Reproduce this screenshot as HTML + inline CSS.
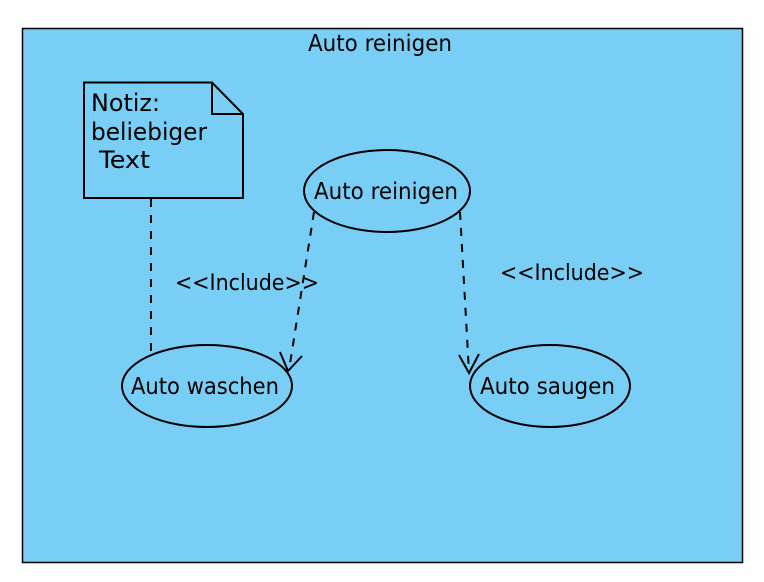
<!DOCTYPE html>
<html><head><style>body{margin:0;background:#fff}svg{display:block}</style></head>
<body>
<svg width="764" height="582" viewBox="0 0 764 582" font-family="DejaVu Sans Condensed, DejaVu Sans, sans-serif" font-size="23">
<rect x="22.5" y="28.5" width="720" height="534" fill="#79CEF5" stroke="#000" stroke-width="1.5"/>
<text x="308" y="51" font-size="23" textLength="144" lengthAdjust="spacingAndGlyphs">Auto reinigen</text>
<path d="M84 82.5 H212 L243 114 V198 H84 Z" fill="#79CEF5" stroke="#000" stroke-width="2"/>
<path d="M212 82.5 V114 H243" fill="none" stroke="#000" stroke-width="2"/>
<text x="91" y="111" font-size="24" textLength="69" lengthAdjust="spacingAndGlyphs">Notiz:</text>
<text x="91" y="140" font-size="24" textLength="116" lengthAdjust="spacingAndGlyphs">beliebiger</text>
<text x="99" y="168" font-size="24" textLength="51" lengthAdjust="spacingAndGlyphs">Text</text>
<line x1="151" y1="199" x2="151" y2="354" stroke="#000" stroke-width="2" stroke-dasharray="8,8"/>
<ellipse cx="387" cy="191" rx="83" ry="41" fill="#79CEF5" stroke="#000" stroke-width="2"/>
<text x="314" y="199" font-size="23" textLength="144" lengthAdjust="spacingAndGlyphs">Auto reinigen</text>
<ellipse cx="207" cy="386" rx="85" ry="41" fill="#79CEF5" stroke="#000" stroke-width="2"/>
<text x="131" y="394" font-size="23" textLength="148" lengthAdjust="spacingAndGlyphs">Auto waschen</text>
<ellipse cx="550" cy="386" rx="80" ry="41" fill="#79CEF5" stroke="#000" stroke-width="2"/>
<text x="480" y="394" font-size="23" textLength="135" lengthAdjust="spacingAndGlyphs">Auto saugen</text>
<line x1="314" y1="212" x2="289" y2="370" stroke="#000" stroke-width="2" stroke-dasharray="8,8"/>
<path d="M280 352 L288 371 L302 356" fill="none" stroke="#000" stroke-width="2"/>
<line x1="460" y1="212" x2="469" y2="372" stroke="#000" stroke-width="2" stroke-dasharray="8,8"/>
<path d="M459 355 L469 373 L479 354" fill="none" stroke="#000" stroke-width="2"/>
<text x="175" y="290" font-size="22" textLength="144" lengthAdjust="spacingAndGlyphs">&lt;&lt;Include&gt;&gt;</text>
<text x="500" y="280" font-size="22" textLength="144" lengthAdjust="spacingAndGlyphs">&lt;&lt;Include&gt;&gt;</text>
</svg>
</body></html>
